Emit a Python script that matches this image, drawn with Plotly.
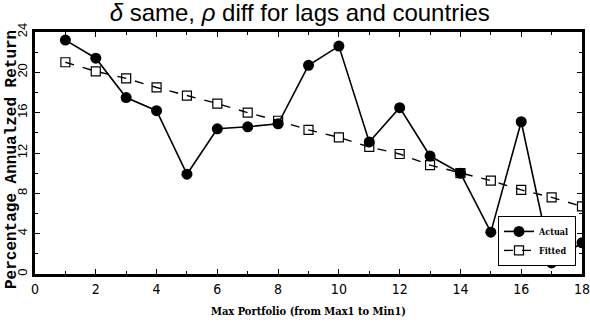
import plotly.graph_objects as go

portfolio = list(range(1, 19))
actual = [23.2, 21.4, 17.5, 16.2, 9.9, 14.4, 14.6, 14.9, 20.7, 22.6,
          13.1, 16.5, 11.7, 10.0, 4.15, 15.1, 1.1, 3.1]
fitted = [21.0, 20.1, 19.4, 18.5, 17.7, 16.9, 16.0, 15.2, 14.3, 13.55,
          12.6, 11.9, 10.8, 10.0, 9.26, 8.34, 7.6, 6.7]
x_ticks = list(range(0, 19, 2))
y_ticks = list(range(0, 25, 4))

fig = go.Figure()
fig.add_trace(go.Scatter(
    x=portfolio, y=actual, name="Actual", mode="lines+markers",
    line=dict(color="black", width=1.6),
    marker=dict(symbol="circle", size=11, color="black"),
))
fig.add_trace(go.Scatter(
    x=portfolio, y=fitted, name="Fitted", mode="lines+markers",
    line=dict(color="black", width=1.4, dash="dash"),
    marker=dict(symbol="square-open", size=9, color="black", line=dict(width=1.2)),
))

axis_common = dict(
    showline=True, linecolor="black", linewidth=3, mirror="allticks",
    ticks="inside", ticklen=5, tickwidth=1, tickcolor="black",
    showgrid=False, zeroline=False, automargin=False,
    ticklabeloverflow="allow",
)
fig.update_xaxes(
    range=[0, 18], tickvals=x_ticks, ticktext=[str(v) for v in x_ticks],
    minor=dict(dtick=1, ticks="inside", ticklen=3, tickcolor="black"),
    tickfont=dict(family="DejaVu Sans Condensed", size=14, color="black"),
    title=dict(text="<b>Max Portfolio (from Max1 to Min1)</b>",
               font=dict(family="DejaVu Serif Condensed", size=11, color="black"),
               standoff=12),
    **axis_common,
)
fig.update_yaxes(
    range=[0, 24], tickvals=y_ticks, ticktext=[str(v) for v in y_ticks],
    tickangle=-90,
    minor=dict(dtick=2, ticks="inside", ticklen=3, tickcolor="black"),
    tickfont=dict(family="Liberation Sans", size=13, color="black"),
    **axis_common,
)
fig.add_annotation(
    text="<b>Percentage Annualzed Return</b>", textangle=-90,
    xref="paper", yref="paper", x=0, y=0.471, xanchor="center", yanchor="middle",
    xshift=-23, showarrow=False,
    font=dict(family="Liberation Mono", size=16, color="black"),
)
fig.update_layout(
    width=590, height=327,
    margin=dict(l=35, r=8, t=32, b=53),
    paper_bgcolor="white", plot_bgcolor="white",
    title=dict(text="<i>δ</i> same, <i>ρ</i> diff for lags and countries",
               x=0.508, xanchor="center", y=0.962, yanchor="middle",
               font=dict(family="Liberation Sans", size=24, color="black")),
    legend=dict(x=0.989, y=0.24, xanchor="right", yanchor="top",
                bgcolor="white", bordercolor="black", borderwidth=1,
                font=dict(family="DejaVu Serif Condensed", size=9, color="black",
                          weight="bold"),
                itemwidth=30, tracegroupgap=0),
    showlegend=True,
)
fig.write_html("out.html", config={"displayModeBar": False},
               post_script="document.body.style.margin='0px';")
